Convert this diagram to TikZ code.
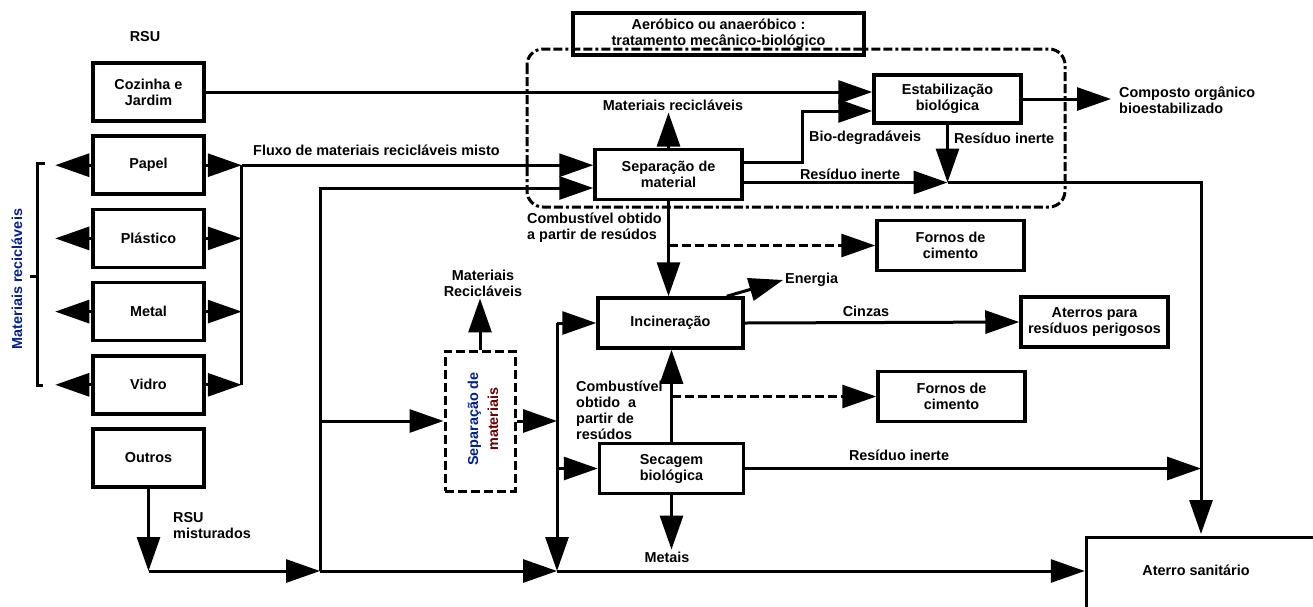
\documentclass[tikz,border=0pt]{standalone}
\usepackage{fontspec}
\setmainfont{Liberation Sans}
\usepackage{tikz}
\usetikzlibrary{arrows.meta,positioning}
\usepackage{xcolor}
\definecolor{labelblue}{RGB}{0,32,140}
\definecolor{labelred}{RGB}{110,0,0}
\newcommand{\dfont}{\fontsize{14.4}{16}\selectfont\bfseries}

\begin{document}
\begin{tikzpicture}[x=1pt,y=-1pt,>={Triangle[length=34pt,width=23pt]},node distance=11.7pt]
\tikzstyle{box}=[draw,line width=3.5pt,align=center,inner sep=2pt,font=\dfont]
\tikzstyle{srcbox}=[box,minimum width=111pt,minimum height=58pt]
\tikzstyle{procbox}=[box,minimum width=147pt,minimum height=50pt]
\tikzstyle{lbl}=[align=left,inner sep=2pt,font=\dfont]
\tikzstyle{flow}=[->,line width=3pt]
\tikzstyle{dflow}=[flow,dash pattern=on 9pt off 4pt]
\tikzstyle{plain}=[line width=3pt]

\useasboundingbox (0,0) rectangle (1313,606);

% fontes de RSU
\node[lbl] (rsu) at (145,37) {RSU};
\node[srcbox] (cozinha) at (148.5,92) {Cozinha e\\Jardim};
\node[srcbox,below=of cozinha] (papel) {Papel};
\node[srcbox,below=of papel] (plastico) {Plástico};
\node[srcbox,below=of plastico] (metal) {Metal};
\node[srcbox,below=of metal] (vidro) {Vidro};
\node[srcbox,below=of vidro] (outros) {Outros};

% tratamento mecanico-biologico
\draw[line width=3pt,dash pattern=on 9pt off 3pt on 9pt off 3pt on 3pt off 3pt,rounded corners=16pt] (527,49) rectangle (1065,207);
\node[box,minimum width=291pt,minimum height=42pt] (tmb) at (718.5,34) {Aeróbico ou anaeróbico :\\tratamento mecânico-biológico};
\node[procbox] (sepmat) at (668.5,174.5) {Separação de\\material};
\node[procbox,minimum height=48pt] (estab) at (947.5,99) {Estabilização\\biológica};
\node[procbox] (fornosA) at (950.5,245.5) {Fornos de\\cimento};
\node[procbox,minimum width=145pt] (incin) at (670.5,323) {Incineração};
\node[procbox,minimum width=144pt] (secagem) at (671.5,468.5) {Secagem\\biológica};
\node[procbox] (aterrosP) at (1094.5,322) {Aterros para\\resíduos perigosos};
\node[procbox] (fornosB) at (951.5,396.5) {Fornos de\\cimento};
\node[draw,line width=3pt,dash pattern=on 9pt off 4pt,minimum width=70pt,minimum height=140pt] (sepdash) at (480,421) {};
\node[lbl,rotate=90,align=center,font=\fontsize{14.4}{20}\selectfont\bfseries] (sepdashtxt) at (483,419) {\textcolor{labelblue}{Separação de}\\\textcolor{labelred}{materiais}};
\node[draw,line width=3.5pt,anchor=north west,minimum width=300pt,minimum height=120pt] (aterro) at (1084.75,535.75) {};
\node[lbl] (aterrotxt) at (1196,570) {Aterro sanitário};

% rotulos
\node[lbl,rotate=90,text=labelblue] (matrec) at (17,279) {Materiais recicláveis};
\node[lbl,anchor=west] (fluxo) at (251,150) {Fluxo de materiais recicláveis misto};
\node[lbl] (mrec) at (673,105) {Materiais recicláveis};
\node[lbl,anchor=west] (biolbl) at (807,138) {Bio-degradáveis};
\node[lbl,anchor=west] (inerte2) at (952,138) {Resíduo inerte};
\node[lbl] (inerte1) at (850,174) {Resíduo inerte};
\node[lbl,anchor=west] (composto) at (1117,100) {Composto orgânico\\bioestabilizado};
\node[lbl,anchor=west] (comb1) at (525,228) {Combustível obtido\\a partir de resúdos};
\node[lbl,anchor=west] (energia) at (783,280) {Energia};
\node[lbl] (cinzas) at (866,311) {Cinzas};
\node[lbl,align=center] (mrec2) at (483,283) {Materiais\\Recicláveis};
\node[lbl,anchor=west] (comb2) at (574,410) {Combustível\\obtido~ a\\partir de\\resúdos};
\node[lbl] (inerte3) at (899,455) {Resíduo inerte};
\node[lbl] (metais) at (667,557) {Metais};
\node[lbl,anchor=west] (rsum) at (171,526) {RSU\\misturados};

\coordinate (biocorner) at (802,111);
\coordinate (inertejn) at (947.5,182.5);
\coordinate (drop) at (1201,534);
\coordinate (jm) at (148.5,571);
\coordinate (j1) at (320,571);
\coordinate (j2) at (557,571);

% separacao na origem
\foreach \b in {papel,plastico,metal,vidro}{
  \draw[flow] (\b.west) -- ++(-36,0);
  \draw[flow] (\b.east) -- ++(36,0);
}
\draw[plain] ([xshift=36pt]papel.east) -- ([xshift=36pt]vidro.east);
\draw[plain] (45,163) -- (37,163) -- (37,385) -- (43,385);
\draw[plain] (30,276) -- (37,276);
\draw[flow] ([xshift=36pt]papel.east) -- (papel -| sepmat.west);
\draw[flow] (cozinha.east) -- (cozinha.east -| estab.west);

% TMB
\draw[flow] (sepmat.north) -- (sepmat.north |- mrec.south);
\draw[flow] ([yshift=12pt]sepmat.east) -| (biocorner) -- (biocorner -| estab.west);
\draw[flow] ([yshift=-8pt]sepmat.east) -- (inertejn);
\draw[flow] (estab.south) -- (inertejn);
\draw[flow] (inertejn) -| (drop);
\draw[flow] (estab.east) -- ([xshift=-6pt]composto.west |- estab.east);
\draw[flow] (sepmat.south) -- (sepmat.south |- incin.north);
\draw[dflow] (sepmat.south |- fornosA) -- (fornosA.west);

% RSU misturados
\draw[flow] (outros.south) -- (jm);
\draw[flow] (jm) -- (j1);
\draw[flow] (j1) -- (j2);
\draw[flow] (j2) -- (j2 -| aterro.west);
\draw[flow] (j1) |- ([yshift=-13.5pt]sepmat.west);
\draw[flow] (j1 |- sepdash.west) -- (sepdash.west);
\draw[flow] (sepdash.north) -- (sepdash.north |- mrec2.south);
\draw[flow] (sepdash.east) -- (sepdash.east -| j2);
\draw[flow] (j2 |- incin) -- (incin.west);
\draw[flow] (j2 |- secagem) -- (secagem.west);
\draw[flow] (j2 |- incin) -- (j2);

% incineracao e secagem
\draw[flow] ([xshift=-18pt]incin.north east) -- (energia.west);
\draw[flow] (incin.east) -- (aterrosP.west);
\draw[flow] (secagem.north) -- (secagem.north |- incin.south);
\draw[dflow] (secagem.north |- fornosB) -- (fornosB.west);
\draw[flow] (secagem.south) -- (secagem.south |- metais.north);
\draw[flow] (secagem.east) -- (secagem.east -| drop);
\end{tikzpicture}
\end{document}
